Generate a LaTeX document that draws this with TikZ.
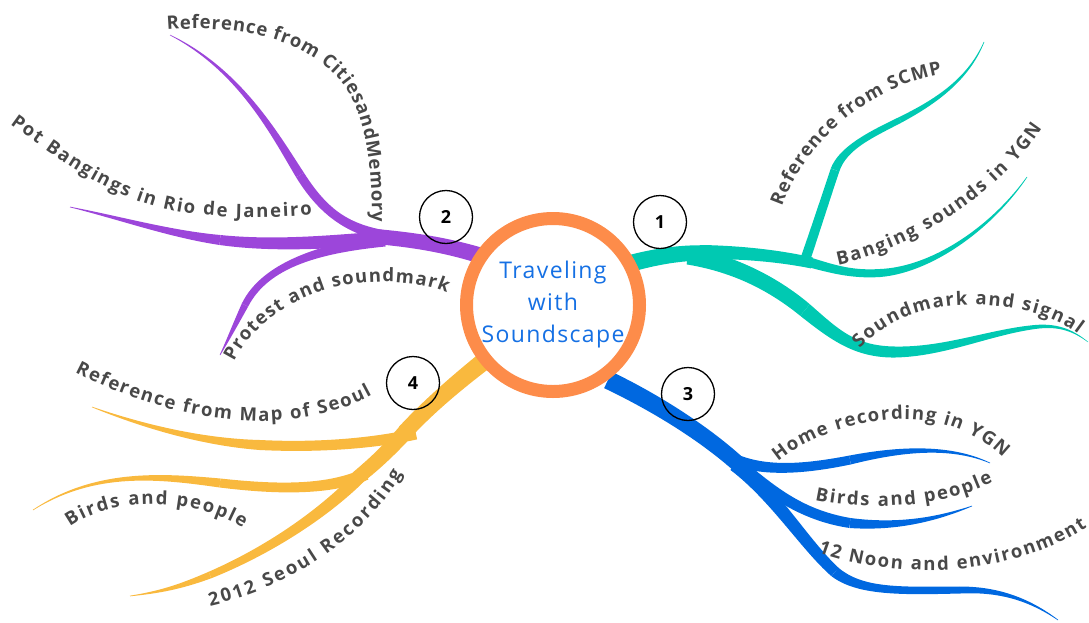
\documentclass[tikz,border=0pt]{standalone}
\usepackage{fontspec}
\setmainfont{Open Sans}
\usetikzlibrary{calc,decorations.text}

\definecolor{hubring}{RGB}{253,140,74}
\definecolor{hubtext}{RGB}{21,112,228}
\definecolor{teal1}{RGB}{0,201,178}
\definecolor{purp2}{RGB}{156,70,218}
\definecolor{blue3}{RGB}{0,104,224}
\definecolor{yell4}{RGB}{249,185,62}
\definecolor{labgray}{RGB}{72,72,72}

\newcommand{\labfont}{\fontsize{18.5}{20}\selectfont\bfseries}
% tapered piece of a branch: colour, P0, P1, P2, P3, half widths at P0..P3
\newcommand{\twig}[9]{%
	\fill[#1] ($(#2)!#6!90:(#3)$) .. controls ($(#3)!#7!-90:(#2)$) and ($(#4)!#8!90:(#5)$) .. ($(#5)!#9!-90:(#4)$)
		-- ($(#5)!#9!90:(#4)$) .. controls ($(#4)!#8!-90:(#5)$) and ($(#3)!#7!90:(#2)$) .. ($(#2)!#6!-90:(#3)$) -- cycle;}

\tikzset{
	hub/.style={circle,draw=hubring,line width=13pt,fill=white,minimum size=173pt,inner sep=0pt,
		align=center,text=hubtext,font={\fontsize{23}{32}\selectfont\addfontfeature{LetterSpace=6}}},
	numc/.style={circle,draw=black,line width=1.3pt,minimum size=53pt,inner sep=0pt,
		font={\fontsize{18}{20}\selectfont\bfseries}},
	lab/.style={decorate,decoration={text along path,text color=labgray,text align={fit to path},
		text={|\labfont|#1}}}
}

\begin{document}
\begin{tikzpicture}[x=1pt,y=-1pt]
	\path[use as bounding box] (0,0) rectangle (1089,622);

	% 1
	\twig{teal1}{615,268}{650,257}{680,252}{712,253}{8.5pt}{8.5pt}{8pt}{7.5pt}
	\twig{teal1}{700,252}{740,252}{780,256}{812,263}{7pt}{6.5pt}{6pt}{5.5pt}
	\twig{teal1}{808,262}{830,268}{850,275}{880,273}{5pt}{4.5pt}{4pt}{4pt}
	\twig{teal1}{880,273}{930,270}{990,230}{1027,177}{4pt}{3pt}{1.5pt}{0.3pt}
	\twig{teal1}{804,263}{812,240}{825,200}{835,170}{5pt}{4.8pt}{4.5pt}{4.5pt}
	\twig{teal1}{835,170}{843,148}{870,135}{900,120}{4.5pt}{4pt}{3.5pt}{3pt}
	\twig{teal1}{900,120}{935,102}{968,80}{984,42}{3pt}{2.2pt}{1.2pt}{0.3pt}
	\twig{teal1}{688,256}{730,263}{770,281}{805,310}{8.5pt}{8.5pt}{8pt}{7.5pt}
	\twig{teal1}{805,310}{835,335}{855,352}{895,352}{7.5pt}{6.5pt}{6pt}{5.5pt}
	\twig{teal1}{895,352}{945,352}{990,332}{1035,327}{5.5pt}{4.5pt}{3pt}{2pt}
	\twig{teal1}{1035,327}{1060,324}{1075,332}{1088,342}{2pt}{1.3pt}{0.7pt}{0.2pt}

	% 2
	\twig{purp2}{495,260}{460,249}{430,241}{370,236}{8pt}{8pt}{7.5pt}{7.5pt}
	\twig{purp2}{385,236}{350,229}{325,215}{300,175}{5.5pt}{5pt}{4.8pt}{4.5pt}
	\twig{purp2}{300,175}{275,135}{240,70}{170,35}{4.5pt}{3.5pt}{1.8pt}{0.3pt}
	\twig{purp2}{385,238}{320,243}{270,246}{220,240}{7pt}{6.5pt}{6pt}{5pt}
	\twig{purp2}{220,240}{170,234}{120,218}{70,207}{5pt}{3.5pt}{1.8pt}{0.3pt}
	\twig{purp2}{385,241}{320,248}{265,265}{245,305}{5.5pt}{5pt}{4pt}{3.5pt}
	\twig{purp2}{245,305}{235,325}{228,340}{220,355}{3.5pt}{2.5pt}{1.3pt}{0.3pt}

	% 3
	\twig{blue3}{608,380}{650,400}{700,430}{737,463}{9pt}{9pt}{8.5pt}{8pt}
	\twig{blue3}{728,457}{760,472}{800,470}{850,460}{6pt}{5.5pt}{5pt}{4.5pt}
	\twig{blue3}{850,460}{900,449}{950,445}{990,463}{4.5pt}{3pt}{1.5pt}{0.3pt}
	\twig{blue3}{735,462}{770,490}{800,515}{850,523}{6.5pt}{6pt}{5.5pt}{5pt}
	\twig{blue3}{850,523}{900,528}{940,518}{972,506}{5pt}{3.5pt}{1.8pt}{0.3pt}
	\twig{blue3}{735,464}{775,495}{805,545}{835,572}{7.5pt}{7pt}{6pt}{5.5pt}
	\twig{blue3}{835,572}{860,592}{900,591}{960,590}{5.5pt}{4.5pt}{4pt}{3.5pt}
	\twig{blue3}{960,590}{1000,589}{1030,600}{1058,620}{3.5pt}{2.5pt}{1.2pt}{0.3pt}

	% 4
	\twig{yell4}{488,358}{460,380}{430,405}{405,432}{9pt}{8.5pt}{8pt}{8pt}
	\twig{yell4}{416,434}{375,443}{320,448}{260,445}{5.5pt}{5.5pt}{5pt}{5pt}
	\twig{yell4}{260,445}{200,442}{140,425}{92,407}{5pt}{3.5pt}{1.8pt}{0.3pt}
	\twig{yell4}{407,430}{392,447}{377,462}{357,478}{8pt}{7.5pt}{7.5pt}{7pt}
	\twig{yell4}{366,474}{330,490}{280,490}{220,483}{6pt}{5.5pt}{5pt}{4.5pt}
	\twig{yell4}{220,483}{160,476}{95,470}{33,510}{4.5pt}{3pt}{1.5pt}{0.3pt}
	\twig{yell4}{368,468}{330,510}{270,550}{210,575}{6.5pt}{6pt}{4.5pt}{3.5pt}
	\twig{yell4}{210,575}{180,587}{160,592}{130,596}{3.5pt}{2.5pt}{1.2pt}{0.3pt}

	\node[hub] (hub) at (553,305) {Traveling\\with\\Soundscape};
	\node[numc] (n1) at (660,222) {1};
	\node[numc] (n2) at (446,217) {2};
	\node[numc] (n3) at (688,394) {3};
	\node[numc] (n4) at (413,383) {4};

	\path[lab={Reference from SCMP}] (782,207) .. controls (800,155) and (855,90) .. (942,74);
	\path[lab={Banging sounds in YGN}] (838,265) .. controls (900,252) and (990,205) .. (1042,128);
	\path[lab={Soundmark and signal}] (860,349) .. controls (880,325) and (920,307) .. (960,305)
		.. controls (1000,303) and (1050,312) .. (1078,334);
	\path[lab={Reference from CitiesandMemory}] (167,30) .. controls (230,25) and (295,35) .. (335,75)
		.. controls (365,105) and (372,160) .. (372,222);
	\path[lab={Pot Bangings in Rio de Janeiro}] (10,124) .. controls (60,160) and (110,200) .. (180,212)
		.. controls (230,220) and (280,217) .. (312,215);
	\path[lab={Protest and soundmark}] (234,362) .. controls (250,330) and (280,305) .. (325,290)
		.. controls (365,278) and (420,280) .. (447,293);
	\path[lab={Home recording in YGN}] (778,462) .. controls (810,435) and (870,415) .. (920,420)
		.. controls (955,423) and (985,440) .. (1003,458);
	\path[lab={Birds and people}] (815,500) .. controls (860,510) and (940,510) .. (993,482);
	\path[lab={12 Noon and environment}] (818,552) .. controls (860,568) and (920,573) .. (960,569)
		.. controls (1010,564) and (1055,548) .. (1087,527);
	\path[lab={Reference from Map of Seoul}] (75,372) .. controls (130,400) and (190,420) .. (260,421)
		.. controls (305,421) and (345,410) .. (372,395);
	\path[lab={Birds and people}] (70,527) .. controls (110,498) and (190,495) .. (243,528);
	\path[lab={2012 Seoul Recording}] (210,606) .. controls (280,590) and (360,545) .. (402,474);
\end{tikzpicture}
\end{document}
